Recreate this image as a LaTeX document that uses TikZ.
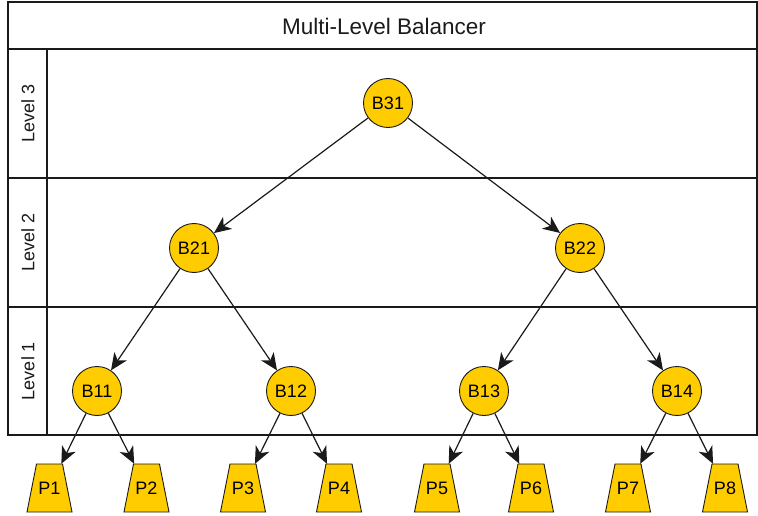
\documentclass[tikz,border=0pt]{standalone}
\usepackage{fontspec}
\setmainfont{Liberation Sans}
\usetikzlibrary{arrows.meta}
\definecolor{gold}{HTML}{FFCC00}
\definecolor{ink}{HTML}{1A1A1A}
\tikzset{
  frame/.style={draw=ink, line width=1.3pt},
  balancer/.style={circle, draw=ink, line width=0.9pt, fill=gold, minimum size=49pt, inner sep=0pt, font=\fontsize{18}{20}\selectfont},
  % processor label box: width of the trapezoid's top edge, full height
  proc/.style={rectangle, draw=none, minimum width=26pt, minimum height=48pt, inner sep=0pt, font=\fontsize{18}{20}\selectfont},
  procbody/.style={draw=ink, line width=0.9pt, fill=gold, line join=miter},
  link/.style={draw=ink, line width=1.2pt, -{Stealth[length=17pt,width=15pt,inset=5pt]}},
  levellabel/.style={rotate=90, font=\fontsize{18}{20}\selectfont, text=ink},
}
\begin{document}
\begin{tikzpicture}[x=1pt,y=-1pt]
\useasboundingbox (0,0) rectangle (758,516);
% frame with title band and level bands
\draw[frame] (8,2) rectangle (757,435);
\draw[frame] (8,49) -- (757,49);
\draw[frame] (8,178) -- (757,178);
\draw[frame] (8,307) -- (757,307);
\draw[frame] (47,49) -- (47,435);
\node[font=\fontsize{22.5}{24}\selectfont, text=ink] (title) at (384,26) {Multi-Level Balancer};
\node[levellabel] (l3) at (28,113.5) {Level 3};
\node[levellabel] (l2) at (28,242.5) {Level 2};
\node[levellabel] (l1) at (28,371) {Level 1};
% balancer tree
\node[balancer] (b31) at (388,103) {B31};
\node[balancer] (b21) at (194,248) {B21};
\node[balancer] (b22) at (580,248) {B22};
\node[balancer] (b11) at (97,391) {B11};
\node[balancer] (b12) at (291,391) {B12};
\node[balancer] (b13) at (484,391) {B13};
\node[balancer] (b14) at (677,391) {B14};
% processor bodies: trapezoids, top 26 wide, bottom 45 wide, 48 high
\foreach \cx in {49.5,146.5,243,339,437,531,628,725}
  \draw[procbody] (\cx-13,464) -- (\cx+13,464) -- (\cx+22.5,512) -- (\cx-22.5,512) -- cycle;
% processors
\node[proc] (p1) at (49.5,488) {P1};
\node[proc] (p2) at (146.5,488) {P2};
\node[proc] (p3) at (243,488) {P3};
\node[proc] (p4) at (339,488) {P4};
\node[proc] (p5) at (437,488) {P5};
\node[proc] (p6) at (531,488) {P6};
\node[proc] (p7) at (628,488) {P7};
\node[proc] (p8) at (725,488) {P8};
% connectors
\draw[link] (b31) -- (b21);
\draw[link] (b31) -- (b22);
\draw[link] (b21) -- (b11);
\draw[link] (b21) -- (b12);
\draw[link] (b22) -- (b13);
\draw[link] (b22) -- (b14);
\draw[link] (b11) -- (p1);
\draw[link] (b11) -- (p2);
\draw[link] (b12) -- (p3);
\draw[link] (b12) -- (p4);
\draw[link] (b13) -- (p5);
\draw[link] (b13) -- (p6);
\draw[link] (b14) -- (p7);
\draw[link] (b14) -- (p8);
\end{tikzpicture}
\end{document}
